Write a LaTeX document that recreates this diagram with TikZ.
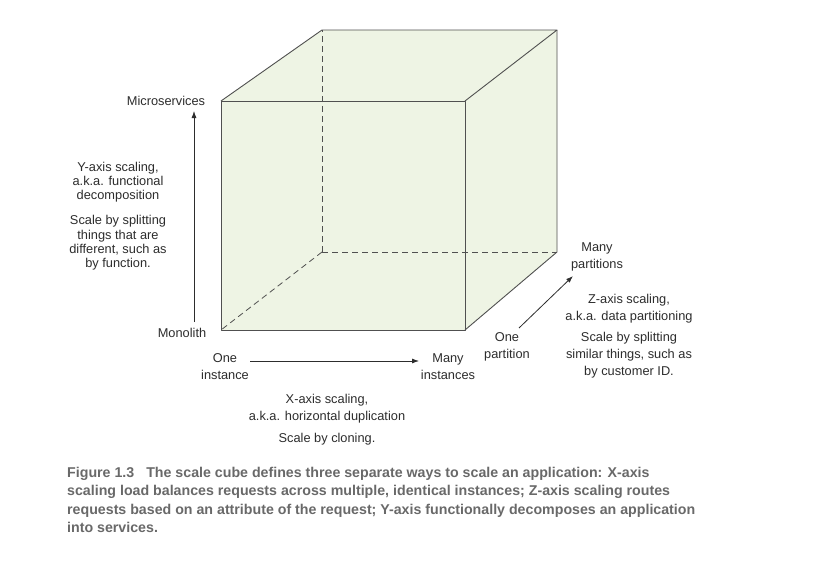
\documentclass[tikz,border=0pt]{standalone}
\usepackage{fontspec}
\setmainfont{Liberation Sans}
\newfontfamily\capfont{Liberation Sans}
\usetikzlibrary{arrows.meta}
\definecolor{cubefill}{RGB}{238,244,228}
\definecolor{edgecol}{RGB}{80,80,80}
\definecolor{txtcol}{RGB}{45,45,45}
\definecolor{capcol}{RGB}{105,105,105}
\tikzset{
  edge/.style={draw=edgecol, line width=0.9pt, line join=round},
  hidden/.style={draw=edgecol, line width=0.8pt, dash pattern=on 6pt off 4pt},
  axisarrow/.style={draw=txtcol, line width=0.8pt, -{Latex[length=7pt,width=5pt]}},
  lbl/.style={inner sep=0pt, text=txtcol, font=\fontsize{12.8}{17}\selectfont, align=center},
  lbly/.style={lbl, font=\fontsize{12.8}{14.3}\selectfont},
  caption/.style={inner sep=0pt, text=capcol, align=left, font=\capfont\bfseries\fontsize{14.2}{18.5}\selectfont}
}
\begin{document}
\begin{tikzpicture}[x=1pt,y=-1pt]
\useasboundingbox (0,0) rectangle (831,565);
\fill[white] (0,0) rectangle (831,565);
% cube corners
\coordinate (FTL) at (221,101);
\coordinate (FTR) at (465,101);
\coordinate (FBL) at (221,330);
\coordinate (FBR) at (465,330);
\coordinate (BTL) at (322,30);
\coordinate (BTR) at (557,30);
\coordinate (BBL) at (322,252);
\coordinate (BBR) at (557,252);
% fill silhouette
\fill[cubefill] (FBL) -- (FTL) -- (BTL) -- (BTR) -- (BBR) -- (FBR) -- cycle;
% hidden edges
\draw[hidden] (BBL) -- (BTL);
\draw[hidden] (BBL) -- (BBR);
\draw[hidden] (BBL) -- (FBL);
% visible edges
\draw[edge] (FTL) rectangle (FBR);
\draw[edge] (FTL) -- (BTL) -- (BTR) -- (FTR);
\draw[edge] (BTR) -- (BBR) -- (FBR);
% Y axis
\node[lbl] (micro) at (166,101) {Microservices};
\node[lbl] (mono) at (182,333) {Monolith};
\coordinate (ystart) at (194,322);
\coordinate (yend) at (194,111);
\draw[axisarrow] (ystart) -- (yend);
\node[lbly] (ytxt1) at (118,182) {Y-axis scaling,\\a.k.a. functional\\decomposition};
\node[lbly] (ytxt2) at (118,243) {Scale by splitting\\things that are\\different, such as\\by function.};
% X axis
\node[lbl] (xone) at (225,367) {One\\instance};
\node[lbl] (xmany) at (448,367) {Many\\instances};
\coordinate (xstart) at (250,361);
\coordinate (xend) at (419,361);
\draw[axisarrow] (xstart) -- (xend);
\node[lbl] (xtxt1) at (327,409) {X-axis scaling,\\a.k.a. horizontal duplication};
\node[lbl] (xtxt2) at (327,439) {Scale by cloning.};
% Z axis
\node[lbl] (zone) at (507,347) {One\\partition};
\node[lbl] (zmany) at (597,257) {Many\\partitions};
\coordinate (zstart) at (519,328);
\coordinate (zend) at (573,276);
\draw[axisarrow] (zstart) -- (zend);
\node[lbl] (ztxt1) at (629,309) {Z-axis scaling,\\a.k.a. data partitioning};
\node[lbl] (ztxt2) at (629,355.5) {Scale by splitting\\similar things, such as\\by customer ID.};
% caption
\node[caption, anchor=base west] (cap) at (67,532.5) {Figure 1.3\hspace{12pt}The scale cube defines three separate ways to scale an application: X-axis\\scaling load balances requests across multiple, identical instances; Z-axis scaling routes\\requests based on an attribute of the request; Y-axis functionally decomposes an application\\into services.};
\end{tikzpicture}
\end{document}
